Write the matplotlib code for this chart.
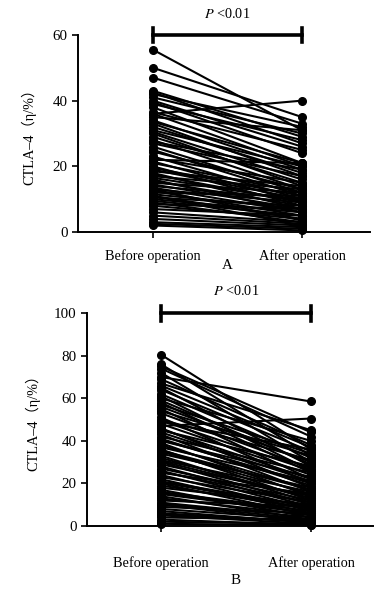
import matplotlib
matplotlib.use('Agg')
import matplotlib.pyplot as plt

plt.rcParams['font.family'] = ['Liberation Serif', 'Noto Sans CJK SC']
plt.rcParams['mathtext.fontset'] = 'stix'

# Panel A: CTLA-4 before / after operation (paired)
a_before = [55.5, 50, 47, 43, 42.5, 42, 41, 40, 39.5, 39, 38, 36, 36.5, 36, 35, 34,
            33.5, 33, 32, 31, 30.5, 30, 29, 28, 27, 26, 25, 24.5, 23, 22, 21.5, 21,
            20, 19.5, 19, 18, 17.5, 17, 16, 15.5, 15, 14.5, 14, 13.5, 13, 12.5, 12,
            11.5, 11, 10.5, 10, 9.5, 9, 8.5, 8, 7, 6, 5, 4, 3, 2.5, 2,
            18.5, 16.5, 13, 11, 22.5, 27.5]
a_after = [31, 35, 33, 29, 27, 32, 30, 26, 24, 28, 21, 40, 25, 20, 31, 19,
           21, 17, 18, 20, 16, 14, 15, 13, 17, 12, 11, 13, 10, 21, 9, 12,
           8, 11, 10, 7, 9, 13, 6, 8, 12, 7, 10, 6, 9, 5, 11,
           7, 4, 8, 6, 5, 3, 7, 4, 5, 3, 2.5, 2, 1.5, 1, 0.5,
           14, 9.5, 3.5, 2, 15, 19]

# Panel B
b_before = [80.5, 76, 75, 72, 70, 69, 67, 65, 64, 62, 61, 60, 58, 57, 56, 55, 53, 51,
            50, 49, 48, 47, 46, 45, 44, 43, 42, 41, 40, 39, 38, 37, 36, 35, 34, 33,
            32, 31, 30, 29, 28, 27, 26, 25, 24, 23, 22, 21, 20, 19, 18, 17, 16, 15,
            14, 13, 12, 11, 10, 9, 8, 7, 6, 5, 4, 3, 2, 1,
            74, 66, 59, 54, 49.5, 45.5, 40.5, 35.5, 30.5, 25.5, 20.5, 15.5, 10.5, 5.5]
b_after = [36, 33, 44, 30, 58.5, 38, 45, 28, 35, 32, 26, 40, 25, 34, 30, 22, 27, 20,
           31, 36, 24, 50.5, 18, 28, 21, 16, 25, 19, 23, 14, 17, 21, 12, 15, 18, 11,
           13, 16, 10, 14, 9, 12, 8, 15, 7, 11, 6, 9, 5, 8, 10, 4, 7, 6,
           3, 5, 9, 4, 2, 6, 3, 1.5, 2, 1, 3, 0.5, 1, 0.5,
           42, 37, 29, 33, 26, 22, 20, 17, 13, 11, 8, 6, 3, 2]

xlabels = ['Before operation', 'After operation']


def draw_panel(ax, before, after, ymax, yticks, xlim, letter, tick_pad, letter_y,
               ylabel_pad):
    for b, a in zip(before, after):
        ax.plot([0, 1], [b, a], '-o', color='black', lw=1.5, markersize=5.5,
                clip_on=False)
    ax.set_xlim(*xlim)
    ax.set_ylim(0, ymax)
    ax.set_yticks(yticks)
    ax.set_xticks([0, 1])
    ax.set_xticklabels(xlabels, fontsize=10.3)
    ax.tick_params(axis='y', direction='out', length=4, width=1.2, labelsize=10.8)
    ax.tick_params(axis='x', direction='out', length=4, width=1.2, pad=tick_pad)
    for s in ['top', 'right']:
        ax.spines[s].set_visible(False)
    for s in ['left', 'bottom']:
        ax.spines[s].set_linewidth(1.4)
    ax.set_ylabel('CTLA–4（η/%）', fontsize=10.3, labelpad=ylabel_pad)
    # significance bracket
    ax.plot([0, 1], [ymax, ymax], color='black', lw=2.6, clip_on=False)
    cap = ymax * 0.035
    for x in (0, 1):
        ax.plot([x, x], [ymax - cap, ymax + cap], color='black', lw=2.6,
                clip_on=False)
    ax.text(0.5, ymax * 1.105, '$P$ <0.01', ha='center', va='center', fontsize=10.3)
    ax.text(0.5, letter_y, letter, ha='center', va='center', fontsize=10.8,
            transform=ax.get_xaxis_transform())


fig = plt.figure(figsize=(3.87, 5.92), dpi=100)
ax1 = fig.add_axes([0.2016, 0.608, 0.7544, 0.333])
ax2 = fig.add_axes([0.2248, 0.1115, 0.7390, 0.3595])

draw_panel(ax1, a_before, a_after, 60, [0, 20, 40, 60], (-0.503, 1.456), 'A',
           8, -0.17, 12)
draw_panel(ax2, b_before, b_after, 100, [0, 20, 40, 60, 80, 100], (-0.493, 1.413), 'B',
           18, -0.255, 10)

fig.savefig('out.png', dpi=100)
